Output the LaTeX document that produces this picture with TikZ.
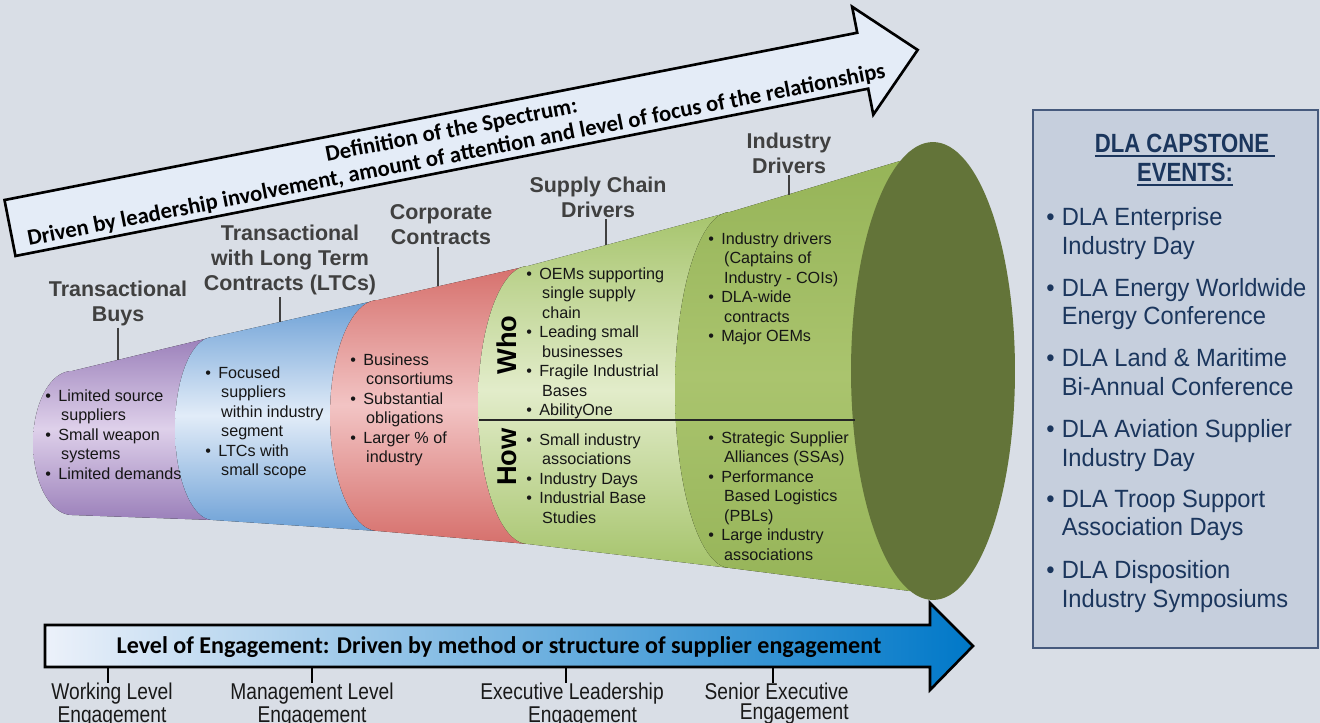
\documentclass[tikz,border=0pt]{standalone}
\usepackage{fontspec}
\setmainfont{Liberation Sans}
\newfontfamily\calfont{Carlito}
\newfontfamily\capfont[FakeStretch=0.95]{Liberation Sans}
\newfontfamily\engfont[FakeStretch=0.84]{Liberation Sans}
\newfontfamily\capheadfont[FakeStretch=0.84]{Liberation Sans}
\usepackage{xcolor}
\usetikzlibrary{positioning}

\definecolor{bgcol}{RGB}{217,222,230}
\definecolor{hdrgray}{RGB}{64,64,64}
\definecolor{txt}{RGB}{22,22,22}
\definecolor{navy}{RGB}{27,54,93}
\definecolor{boxfill}{RGB}{198,207,221}
\definecolor{boxline}{RGB}{70,90,125}
\definecolor{purpdark}{RGB}{155,128,186}
\definecolor{purplight}{RGB}{222,208,234}
\definecolor{bluedark}{RGB}{108,160,214}
\definecolor{bluelight}{RGB}{226,236,248}
\definecolor{reddark}{RGB}{214,112,108}
\definecolor{redlight}{RGB}{242,196,196}
\definecolor{lgdark}{RGB}{166,196,108}
\definecolor{lglight}{RGB}{226,236,202}
\definecolor{mgdark}{RGB}{150,180,88}
\definecolor{mglight}{RGB}{170,196,110}
\definecolor{endgreen}{RGB}{99,116,57}
\definecolor{arrlight}{RGB}{228,236,247}
\definecolor{engleft}{RGB}{236,241,250}
\definecolor{engmid}{RGB}{110,165,222}
\definecolor{engright}{RGB}{0,120,200}

\newcommand{\bi}{\makebox[0.8em][l]{\textbullet}}
\newcommand{\bx}{\hspace*{0.98em}}
\newcommand{\cbi}{\makebox[0.62em][l]{\textbullet}}
\newcommand{\cbx}{\hspace*{0.62em}}
\newcommand{\capul}[1]{\setbox0\hbox{#1}\rlap{\rule[-2.8pt]{\wd0}{1.1pt}}\box0}

\tikzset{
  hdr/.style={align=center, inner sep=1pt, text=hdrgray,
    font=\fontsize{12.2}{14.2}\selectfont\bfseries},
  tick/.style={draw=hdrgray, line width=1.1pt},
  bul/.style={anchor=north west, align=left, inner sep=0pt, text=txt,
    font=\fontsize{9.2}{11.1}\selectfont},
  whohow/.style={rotate=90, inner sep=0pt, text=black,
    font=\fontsize{15.5}{16}\selectfont\bfseries},
  spec/.style={transform shape, inner sep=0pt, text=black,
    font=\calfont\bfseries\fontsize{12.9}{14}\selectfont},
  eng/.style={anchor=north, align=center, inner sep=0pt, text=black!90,
    font=\engfont\fontsize{13}{11}\selectfont},
  capitem/.style={anchor=north west, align=left, inner sep=0pt, text=navy,
    font=\capfont\fontsize{14.2}{16.4}\selectfont}
}

\begin{document}
\begin{tikzpicture}[x=0.02cm, y=-0.02cm]
  \useasboundingbox (0,0) rectangle (1320,723);
  \fill[bgcol] (0,0) rectangle (1320,723);

  % spectrum arrow
  \begin{scope}[shift={(10,228)}, rotate=11.1]
    \draw[fill=arrlight, line width=1.5pt, line join=miter]
      (0,-28.5) -- (869,-28.5) -- (869,-55) -- (925,0) -- (869,55)
      -- (869,28.5) -- (0,28.5) -- cycle;
    \node[spec] (defn) at (452,-10) {Definition of the Spectrum:};
    \node[spec] (drvn) at (452,15) {Driven by leadership involvement, amount of attention and level of focus of the relationships};
  \end{scope}

  % funnel sections
  \fill[top color=purpdark, bottom color=purpdark, middle color=purplight]
    plot[domain=90:270, samples=40, variable=\t] ({72+39*cos(\t)},{443-72*sin(\t)})
    -- (213,520) -- (213,337) -- cycle;
  \fill[top color=bluedark, bottom color=bluedark, middle color=bluelight]
    plot[domain=90:270, samples=40, variable=\t] ({213+38*cos(\t)},{428.5-91.5*sin(\t)})
    -- (378,531) -- (378,300) -- cycle;
  \fill[top color=reddark, bottom color=reddark, middle color=redlight]
    plot[domain=90:270, samples=40, variable=\t] ({378+48*cos(\t)},{415.5-115.5*sin(\t)})
    -- (528,544) -- (528,266) -- cycle;
  \fill[top color=lgdark, bottom color=lgdark, middle color=lglight]
    plot[domain=90:270, samples=40, variable=\t] ({528+50*cos(\t)},{405-139*sin(\t)})
    -- (730,568) -- (730,212) -- cycle;
  \fill[top color=mgdark, bottom color=mgdark, middle color=mglight]
    plot[domain=90:270, samples=40, variable=\t] ({730+55*cos(\t)},{390-178*sin(\t)})
    -- (910,591) -- (900,161) -- cycle;
  \fill[endgreen] (933,371) ellipse [x radius=1.64cm, y radius=4.58cm];

  % who / how split
  \draw[line width=1.1pt, black!85] (479,420) -- (855,420);
  \node[whohow] (who) at (507,345) {Who};
  \node[whohow] (how) at (507,457) {How};

  % section headers
  \node[hdr] (buys) at (118,303) {Transactional\\Buys};
  \node[hdr] (ltc) at (290,260) {Transactional\\with Long Term\\Contracts (LTCs)};
  \node[hdr] (corp) at (441,225) {Corporate\\Contracts};
  \node[hdr] (supc) at (598,197) {Supply Chain\\Drivers};
  \node[hdr] (indd) at (789,153) {Industry\\Drivers};
  \coordinate (buysT) at (118,360);
  \coordinate (ltcT) at (280,322);
  \coordinate (corpT) at (438,286);
  \coordinate (supcT) at (606,245);
  \coordinate (inddT) at (789,195);
  \draw[tick] (buysT |- buys.south) -- (buysT);
  \draw[tick] (ltcT |- ltc.south) -- (ltcT);
  \draw[tick] (corpT |- corp.south) -- (corpT);
  \draw[tick] (supcT |- supc.south) -- (supcT);
  \draw[tick] (inddT |- indd.south) -- (inddT);

  % bullet lists in the funnel
  \node[bul] (buysL) at (45,389) {\bi Limited source\\\bx suppliers\\\bi Small weapon\\\bx systems\\\bi Limited demands};
  \node[bul] (ltcL) at (205,366) {\bi Focused\\\bx suppliers\\\bx within industry\\\bx segment\\\bi LTCs with\\\bx small scope};
  \node[bul] (corpL) at (350,353) {\bi Business\\\bx consortiums\\\bi Substantial\\\bx obligations\\\bi Larger \% of\\\bx industry};
  \node[bul] (whoL) at (526,267) {\bi OEMs supporting\\\bx single supply\\\bx chain\\\bi Leading small\\\bx businesses\\\bi Fragile Industrial\\\bx Bases\\\bi AbilityOne};
  \node[bul] (howL) at (526,433) {\bi Small industry\\\bx associations\\\bi Industry Days\\\bi Industrial Base\\\bx Studies};
  \node[bul] (indL) at (708,232) {\bi Industry drivers\\\bx (Captains of\\\bx Industry - COIs)\\\bi DLA-wide\\\bx contracts\\\bi Major OEMs};
  \node[bul] (ssaL) at (708,431) {\bi Strategic Supplier\\\bx Alliances (SSAs)\\\bi Performance\\\bx Based Logistics\\\bx (PBLs)\\\bi Large industry\\\bx associations};

  % engagement arrow
  \draw[left color=engleft, middle color=engmid, right color=engright,
        line width=1.5pt, line join=miter]
    (45,625) -- (930,625) -- (930,603) -- (973,646) -- (930,690)
    -- (930,667) -- (45,667) -- cycle;
  \node[font=\calfont\bfseries\fontsize{13.7}{15}\selectfont, inner sep=0pt] (lvl) at (499,647)
    {Level of Engagement: Driven by method or structure of supplier engagement};

  \node[eng] (work) at (112,683) {Working Level\\Engagement};
  \node[eng] (mgmt) at (312,683) {Management Level\\Engagement};
  \node[eng] (exec) at (572,683) {Executive Leadership\\\hspace*{12pt}Engagement};
  \node[eng, anchor=north east, align=right] (senr) at (849,683) {Senior Executive\\Engagement};
  \coordinate (workT) at (108,667);
  \coordinate (mgmtT) at (312,667);
  \coordinate (execT) at (566,667);
  \coordinate (senrT) at (773,667);
  \draw[line width=0.9pt] (workT) -- (workT |- work.north);
  \draw[line width=0.9pt] (mgmtT) -- (mgmtT |- mgmt.north);
  \draw[line width=0.9pt] (execT) -- (execT |- exec.north);
  \draw[line width=0.9pt] (senrT) -- (senrT |- senr.north);

  % capstone events box
  \draw[fill=boxfill, draw=boxline, line width=0.9pt] (1033,110) rectangle (1318,648);
  \node[align=center, inner sep=0pt, text=navy,
        font=\capheadfont\bfseries\fontsize{15}{16.4}\selectfont] (caph) at (1185,160)
    {\capul{DLA CAPSTONE\ }\\\capul{EVENTS:}};
  \foreach \la/\lb [count=\i] in {DLA Enterprise/Industry Day,
      DLA Energy Worldwide/Energy Conference,
      DLA Land \& Maritime/Bi-Annual Conference,
      DLA Aviation Supplier/Industry Day,
      DLA Troop Support/Association Days,
      DLA Disposition/Industry Symposiums}
    \node[capitem] (cap\i) at (1046,{207+(\i-1)*70.6}) {\cbi\la\\\cbx\lb};
\end{tikzpicture}
\end{document}
